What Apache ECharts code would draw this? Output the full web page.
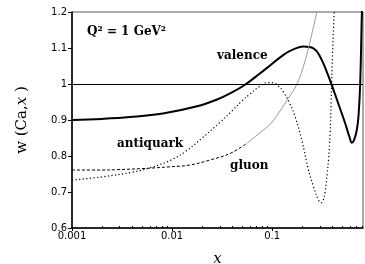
<!DOCTYPE html>
<html>
<head>
<meta charset="utf-8">
<title>w(Ca,x)</title>
<script src="https://cdn.jsdelivr.net/npm/echarts@6/dist/echarts.min.js"></script>
<style>
    html, body { margin: 0; padding: 0; background: #fff; }
    #chart { width: 365px; height: 264px; }
</style>
</head>
<body>
<div id="chart"></div>
<script>
// values, [x, w]
var valence = [
    [0.001, 0.900], [0.002, 0.903], [0.0038, 0.908], [0.0081, 0.918], [0.0178, 0.938],
    [0.0282, 0.957], [0.038, 0.974], [0.0537, 0.998], [0.0759, 1.030], [0.0885, 1.044],
    [0.13, 1.081], [0.163, 1.096], [0.206, 1.104], [0.259, 1.099], [0.302, 1.076],
    [0.352, 1.034], [0.395, 0.997], [0.457, 0.947], [0.537, 0.891], [0.59, 0.855],
    [0.627, 0.837], [0.66, 0.845], [0.70, 0.870], [0.73, 0.910], [0.759, 1.0],
    [0.79, 1.2], [0.82, 1.35]
];
var antiquark = [
    [0.001, 0.733], [0.002, 0.742], [0.004, 0.755], [0.006, 0.767], [0.01, 0.790],
    [0.014, 0.815], [0.02, 0.850], [0.03, 0.893], [0.04, 0.926], [0.05, 0.953],
    [0.06, 0.972], [0.075, 0.993], [0.09, 1.004], [0.103, 1.003], [0.117, 0.993],
    [0.13, 0.978], [0.15, 0.946], [0.17, 0.909], [0.198, 0.844], [0.231, 0.761],
    [0.259, 0.715], [0.29, 0.678], [0.309, 0.670], [0.325, 0.678], [0.339, 0.701],
    [0.355, 0.750], [0.366, 0.789], [0.38, 0.863], [0.389, 0.950], [0.398, 1.05],
    [0.417, 1.2], [0.43, 1.3]
];
var gluon = [
    [0.001, 0.761], [0.002, 0.761], [0.00275, 0.762], [0.005, 0.765], [0.0095, 0.770],
    [0.0151, 0.775], [0.024, 0.789], [0.038, 0.807], [0.0558, 0.835], [0.0759, 0.865],
    [0.0955, 0.888], [0.12, 0.925], [0.145, 0.960], [0.177, 1.0], [0.214, 1.065],
    [0.245, 1.13], [0.28, 1.2], [0.316, 1.27]
];
var gluonSplit = 0.0558;   // dotted below, thin grey above
var xMinorTicks = [
    0.002, 0.003, 0.004, 0.005, 0.006, 0.007, 0.008, 0.009,
    0.02, 0.03, 0.04, 0.05, 0.06, 0.07, 0.08, 0.09,
    0.2, 0.3, 0.4, 0.5, 0.6, 0.7, 0.8
];
var xRange = [0.001, 0.81];
var yRange = [0.6, 1.2];
var yStep = 0.1;

var labelFont = 'DejaVu Serif';
var tickFont = 'DejaVu Sans';

function _label(text, left, y) {
    return {
        type: 'text',
        left: left,
        top: y - 7,
        style: {
            text: text,
            fill: '#000',
            font: 'bold 12px "' + labelFont + '"'
        }
    };
}

var chart = echarts.init(document.getElementById('chart'), null, {renderer: 'canvas'});
chart.setOption({
    animation: false,
    grid: {
        left: 72, right: 2, top: 12, bottom: 36,
        containLabel: false,
        outerBoundsMode: 'none',
        show: true,
        borderColor: '#555',
        borderWidth: 1
    },
    xAxis: [{
        type: 'log',
        logBase: 10,
        min: xRange[0],
        max: xRange[1],
        name: 'x',
        nameLocation: 'middle',
        nameGap: 24,
        nameTextStyle: {
            fontFamily: labelFont, fontStyle: 'italic', fontSize: 15, color: '#000'
        },
        axisLine: {lineStyle: {color: '#000', width: 1.5}},
        axisTick: {length: 3, lineStyle: {color: '#000'}},
        axisLabel: {
            fontFamily: tickFont, fontSize: 10, color: '#000', margin: 3,
            showMaxLabel: false
        },
        splitLine: {show: false}
    }, {
        type: 'log',
        logBase: 10,
        min: xRange[0],
        max: xRange[1],
        position: 'bottom',
        axisLine: {show: false},
        axisTick: {
            inside: true, length: 2, customValues: xMinorTicks,
            lineStyle: {color: '#000'}
        },
        axisLabel: {show: false},
        splitLine: {show: false}
    }],
    yAxis: {
        type: 'value',
        min: yRange[0],
        max: yRange[1],
        interval: yStep,
        name: '{a|w (Ca,}{b|x}{a| )}',
        nameLocation: 'middle',
        nameGap: 42,
        nameTextStyle: {
            rich: {
                a: {fontFamily: labelFont, fontSize: 15, color: '#000'},
                b: {fontFamily: labelFont, fontSize: 15, fontStyle: 'italic', color: '#000'}
            }
        },
        axisLine: {show: true, lineStyle: {color: '#000', width: 1.5}},
        axisTick: {show: true, length: 4, lineStyle: {color: '#000'}},
        axisLabel: {fontFamily: tickFont, fontSize: 10, color: '#000', margin: 5},
        splitLine: {show: false}
    },
    graphic: [
        _label('Q\u00b2 = 1 GeV\u00b2', 87, 33),
        _label('valence', 217, 57),
        _label('antiquark', 117, 145),
        _label('gluon', 230, 167)
    ],
    series: [{
        name: 'valence',
        type: 'line',
        data: valence,
        smooth: 0.4,
        showSymbol: false,
        clip: true,
        lineStyle: {color: '#000', width: 2},
        markLine: {
            silent: true,
            symbol: 'none',
            label: {show: false},
            lineStyle: {color: '#000', width: 1, type: 'solid'},
            data: [{yAxis: 1}]
        }
    }, {
        name: 'antiquark',
        type: 'line',
        data: antiquark,
        smooth: 0.4,
        showSymbol: false,
        clip: true,
        lineStyle: {color: '#000', width: 1.2, type: [1.2, 2.4]}
    }, {
        name: 'gluon',
        type: 'line',
        data: gluon.filter(function (p) { return p[0] <= gluonSplit; }),
        smooth: 0.4,
        showSymbol: false,
        clip: true,
        lineStyle: {color: '#000', width: 1, type: [3, 2]}
    }, {
        name: 'gluon',
        type: 'line',
        data: gluon.filter(function (p) { return p[0] >= gluonSplit; }),
        smooth: 0.4,
        showSymbol: false,
        clip: true,
        lineStyle: {color: '#999', width: 1}
    }]
});
</script>
</body>
</html>
